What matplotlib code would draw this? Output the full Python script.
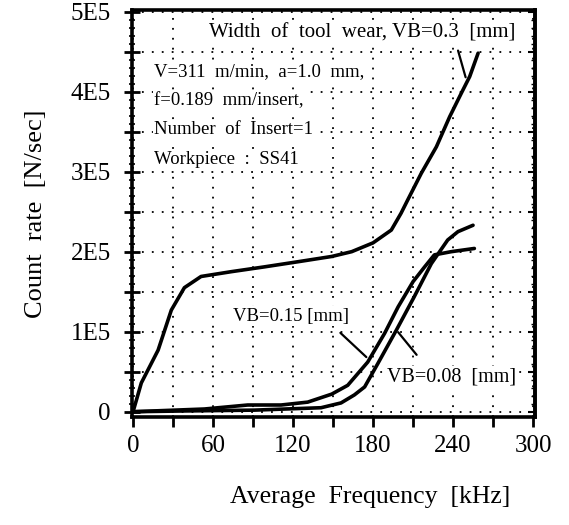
import matplotlib
matplotlib.use("Agg")
import matplotlib.pyplot as plt
from matplotlib.ticker import MultipleLocator, FuncFormatter

# ---- data ----
freq_vb030 = [0, 6.2, 18.8, 28.7, 38.5, 51, 73.7, 98.5, 124, 149, 164, 180, 193.7, 201, 206, 216.2, 227.5, 237.5, 246.2, 252.5, 258.8]
rate_vb030 = [0, 36000, 77000, 127000, 155000, 169000, 175000, 181000, 187500, 194000, 200000, 211000, 227000, 248000, 264600, 298000, 331000, 368700, 398000, 418800, 448000]

freq_vb015 = [0, 53.5, 86, 111, 131, 149, 161, 176, 188.7, 198.8, 210, 218.7, 226, 238.7, 256]
rate_vb015 = [0, 3400, 8400, 8400, 12000, 22000, 33000, 62000, 98000, 131000, 162500, 181000, 196000, 200000, 204000]

freq_vb008 = [0, 40, 91, 141, 156, 166, 173.7, 183.7, 197.5, 211, 223.7, 236, 243.7, 255]
rate_vb008 = [0, 1000, 2000, 5000, 11000, 21000, 31000, 60500, 102000, 144000, 185000, 214600, 225000, 233000]

x_labels = {0: "0", 60: "60", 120: "120", 180: "180", 240: "240", 300: "300"}
y_labels = {0: "0", 100000: "1E5", 200000: "2E5", 300000: "3E5", 400000: "4E5", 500000: "5E5"}

title_text = "Width  of  tool  wear, VB=0.3  [mm]"
cond_lines = ["V=311  m/min,  a=1.0  mm,",
              "f=0.189  mm/insert,",
              "Number  of  Insert=1",
              "Workpiece  :  SS41"]
label_vb015 = "VB=0.15 [mm]"
label_vb008 = "VB=0.08  [mm]"

serif = "Liberation Serif"
plt.rcParams["font.family"] = [serif, "DejaVu Serif"]

fig = plt.figure(figsize=(5.69, 5.25), dpi=100)
ax = fig.add_axes([0.2315, 0.2057, 0.9403 - 0.2315, 0.981 - 0.2057])

lw = 2.6
for fx, ry in [(freq_vb030, rate_vb030), (freq_vb015, rate_vb015), (freq_vb008, rate_vb008)]:
    ax.plot(fx, ry, color="black", lw=lw, solid_capstyle="round", solid_joinstyle="round", zorder=4)

ax.set_xlim(-1, 301.5)
ax.set_ylim(-6600, 502000)

ax.xaxis.set_major_locator(MultipleLocator(30))
ax.xaxis.set_major_formatter(FuncFormatter(lambda v, p: x_labels.get(int(round(v)), "")))
ax.yaxis.set_major_locator(MultipleLocator(50000))
ax.yaxis.set_major_formatter(FuncFormatter(lambda v, p: y_labels.get(int(round(v)), "")))
ax.yaxis.set_minor_locator(MultipleLocator(10000))

ax.grid(True, which="major", color="black", linestyle=(0, (1, 4.5)), linewidth=1.3, zorder=1)

for s in ax.spines.values():
    s.set_linewidth(2.6)

ax.tick_params(axis="x", which="major", direction="out", length=7, width=2, labelsize=18, pad=6)
ax.tick_params(axis="y", which="major", direction="inout", length=12, width=2, labelsize=18, pad=9)
ax.tick_params(axis="y", which="minor", direction="inout", length=5, width=1.2)

sec = ax.secondary_yaxis("right")
sec.yaxis.set_major_locator(MultipleLocator(50000))
sec.yaxis.set_minor_locator(MultipleLocator(10000))
sec.tick_params(which="major", direction="in", length=5, width=1.5, labelright=False)
sec.tick_params(which="minor", direction="in", length=3, width=1.0)
sec.spines["right"].set_linewidth(2.6)

ax.set_ylabel("Count  rate  [N/sec]", fontsize=19, labelpad=17)
fig.text(370 / 569, 1 - 497 / 525, "Average  Frequency  [kHz]", fontsize=18.5, ha="center", va="center")

box = dict(facecolor="white", edgecolor="none", pad=1.0)
ax.text(57, 473000, title_text, fontsize=15, ha="left", va="center", bbox=box, zorder=3)
cond_y = [424600, 388400, 352100, 314600]
for txt, yv in zip(cond_lines, cond_y):
    ax.text(16, yv, txt, fontsize=13.5, ha="left", va="center", bbox=box, zorder=3)
ax.text(75, 119600, label_vb015, fontsize=13.5, ha="left", va="center", bbox=box, zorder=3)
ax.text(190.7, 43400, label_vb008, fontsize=14.5, ha="left", va="center", bbox=box, zorder=3)

# leader lines from labels to curves
ax.annotate("", xy=(250, 414600), xytext=(243.2, 454600),
            arrowprops=dict(arrowstyle="-", color="black", lw=1.6), zorder=5)
ax.annotate("", xy=(176.5, 65900), xytext=(154, 100900),
            arrowprops=dict(arrowstyle="-", color="black", lw=1.6), zorder=5)
ax.annotate("", xy=(197.5, 102100), xytext=(214, 68400),
            arrowprops=dict(arrowstyle="-", color="black", lw=1.6), zorder=5)

fig.savefig("out.png", dpi=100)
